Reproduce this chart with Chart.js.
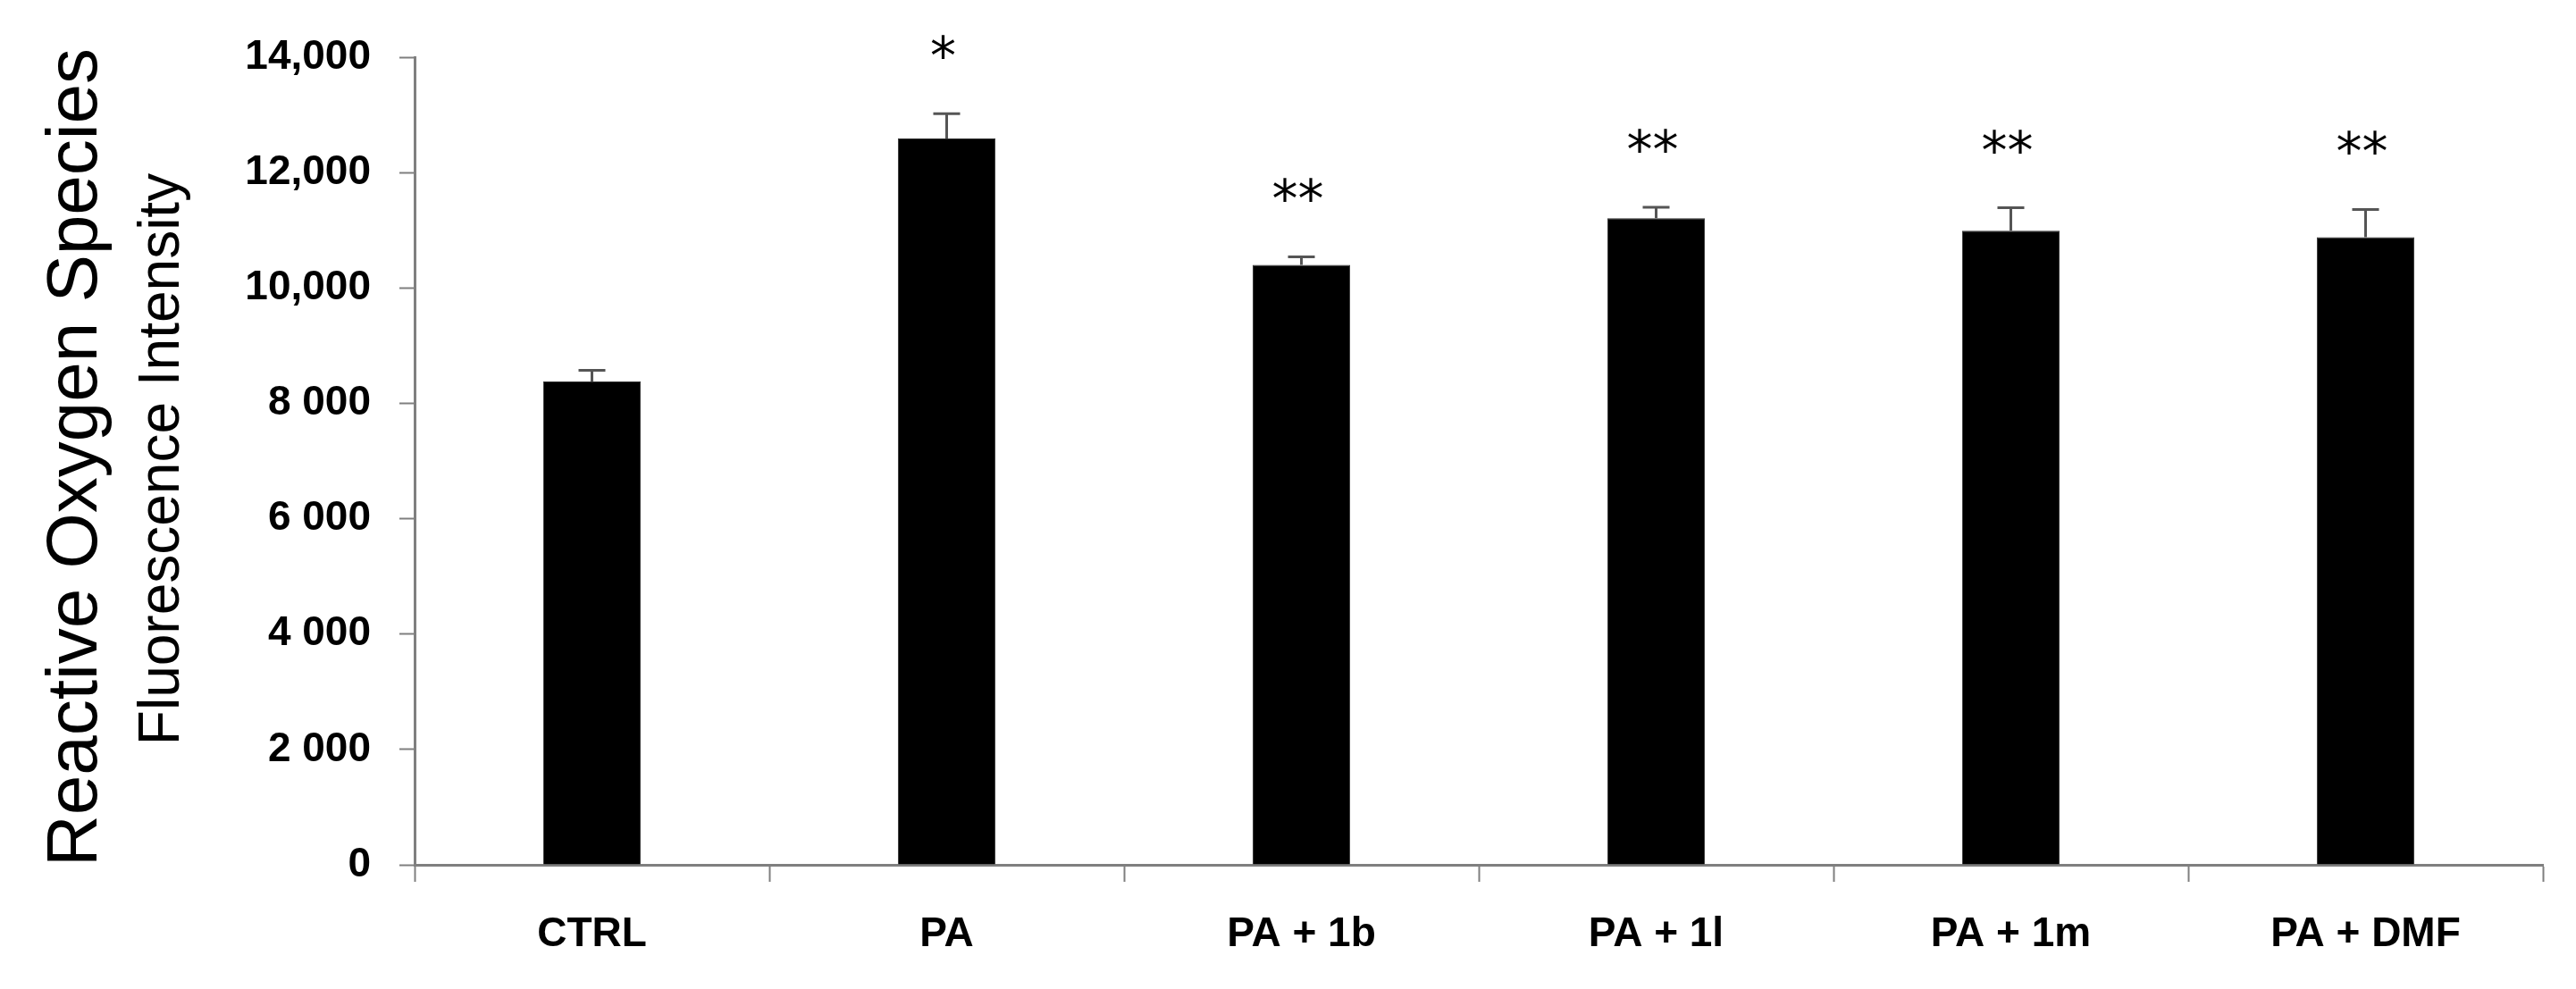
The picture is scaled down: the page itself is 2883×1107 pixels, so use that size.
<!DOCTYPE html>
<html>
<head>
<meta charset="utf-8">
<title>Reactive Oxygen Species</title>
<script src="https://cdn.jsdelivr.net/npm/chart.js@4.4.0/dist/chart.umd.min.js"></script>
<style>
  html, body { margin: 0; padding: 0; background: #fff; }
  #wrap { width: 2883px; height: 1107px; }
</style>
</head>
<body>
<div id="wrap"><canvas id="ros-chart" width="2883" height="1107"></canvas></div>
<script>
'use strict';

// Data
const categories  = ['CTRL', 'PA', 'PA + 1b', 'PA + 1l', 'PA + 1m', 'PA + DMF'];
const rosMeans    = [8380, 12590, 10400, 11210, 10990, 10880];
const rosErrors   = [190, 430, 140, 190, 400, 480];
const sigMarks    = ['', '*', '**', '**', '**', '**'];
const yTickLabels = ['0', '2 000', '4 000', '6 000', '8 000', '10,000', '12,000', '14,000'];

const AXIS_GREY = '#7f7f7f';

/* ── error bars + significance stars ─────────────────────────── */
const errorBarPlugin = {
  id: 'errorBars',
  afterDatasetsDraw(chart) {
    const { ctx, scales: { y } } = chart;
    const meta = chart.getDatasetMeta(0);
    ctx.save();
    meta.data.forEach((bar, i) => {
      const yTop  = y.getPixelForValue(rosMeans[i] + rosErrors[i]);
      const yMean = y.getPixelForValue(rosMeans[i]);
      ctx.strokeStyle = '#555';
      ctx.lineWidth = 3;
      ctx.beginPath();
      ctx.moveTo(bar.x, yMean);
      ctx.lineTo(bar.x, yTop);
      ctx.moveTo(bar.x - 15, yTop);
      ctx.lineTo(bar.x + 15, yTop);
      ctx.stroke();

      if (sigMarks[i]) {
        ctx.fillStyle = '#000';
        ctx.font = '58px "DejaVu Sans"';
        ctx.textAlign = 'center';
        ctx.textBaseline = 'alphabetic';
        ctx.fillText(sigMarks[i], bar.x - 4, yTop - 44);
      }
    });
    ctx.restore();
  },
};

/* ── two-line rotated y title (different sizes) ──────────────── */
const yTitlePlugin = {
  id: 'yTitles',
  afterDraw(chart) {
    const ctx = chart.ctx;
    ctx.save();
    ctx.fillStyle = '#000';
    ctx.textAlign = 'center';
    ctx.textBaseline = 'alphabetic';

    ctx.save();
    ctx.translate(108, 512);
    ctx.rotate(-Math.PI / 2);
    ctx.font = '80px "Liberation Sans"';
    ctx.fillText('Reactive Oxygen Species', 0, 0);
    ctx.restore();

    ctx.save();
    ctx.translate(200, 514);
    ctx.rotate(-Math.PI / 2);
    ctx.font = '64px "Liberation Sans"';
    ctx.fillText('Fluorescence Intensity', 0, 0);
    ctx.restore();

    ctx.restore();
  },
};

new Chart(document.getElementById('ros-chart'), {
  type: 'bar',
  data: {
    labels: categories,
    datasets: [{
      data: rosMeans,
      backgroundColor: '#000',
      borderColor: '#333',
      borderWidth: 1,
      barPercentage: 0.275,
      categoryPercentage: 1,
    }],
  },
  options: {
    responsive: false,
    devicePixelRatio: 1,
    animation: false,
    layout: { padding: { top: 64, right: 37, left: 0, bottom: 0 } },
    plugins: {
      legend: { display: false },
      tooltip: { enabled: false },
    },
    scales: {
      x: {
        offset: true,
        grid: {
          offset: true,
          drawOnChartArea: false,
          tickLength: 19,
          tickColor: AXIS_GREY,
          tickWidth: 2,
        },
        border: { color: AXIS_GREY, width: 3 },
        ticks: {
          color: '#000',
          padding: 32,
          maxRotation: 0,
          font: { family: 'Liberation Sans', weight: 'bold', size: 46 },
        },
        afterFit: s => { s.height = 139; },
      },
      y: {
        min: 0,
        max: 14000,
        grid: {
          drawOnChartArea: false,
          tickLength: 17,
          tickColor: AXIS_GREY,
          tickWidth: 2,
        },
        border: { color: AXIS_GREY, width: 3 },
        ticks: {
          stepSize: 2000,
          color: '#000',
          padding: 32,
          font: { family: 'Liberation Sans', weight: 'bold', size: 46 },
          callback: v => yTickLabels[Math.round(v / 2000)],
        },
        afterFit: s => { s.width = 464; },
      },
    },
  },
  plugins: [errorBarPlugin, yTitlePlugin],
});
</script>
</body>
</html>
